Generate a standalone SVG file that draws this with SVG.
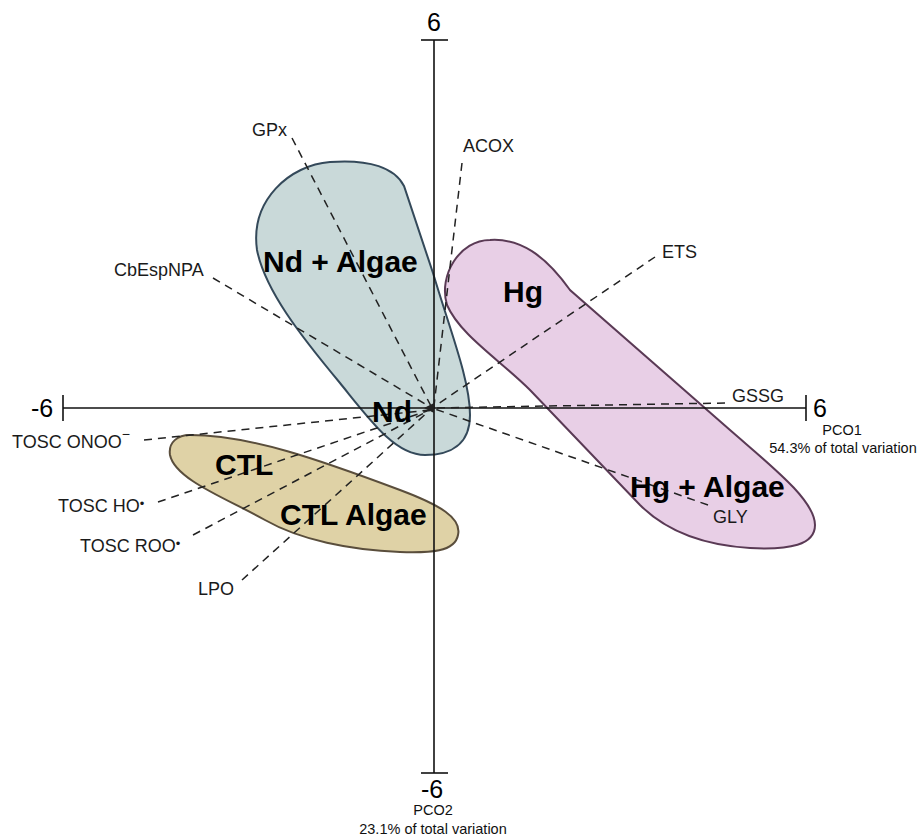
<svg xmlns="http://www.w3.org/2000/svg" width="921" height="838" viewBox="0 0 921 838">
<style>
.lbl{font-family:"Liberation Sans",Arial,sans-serif;font-size:18px;fill:#1a1a1a}
.big{font-family:"Liberation Sans",Arial,sans-serif;font-size:30px;font-weight:bold;fill:#000}
.num{font-family:"Liberation Sans",Arial,sans-serif;font-size:25px;fill:#000}
.ax{font-family:"Liberation Sans",Arial,sans-serif;font-size:14.5px;fill:#111}
.vec{stroke:#222;stroke-width:1.5;stroke-dasharray:8 6;fill:none}
.axis{stroke:#111;stroke-width:1.6;fill:none}
</style>
<rect width="921" height="838" fill="#fff"/>
<g id="ndalgae"><path d="M330 162 C370 159 395 168 404 186 L433 273 C450 330 470 380 470 415 C470 445 450 455 425 455 C395 455 370 420 340 383 C300 335 265 290 257 250 C250 200 290 165 330 162 Z" fill="#c9d9d9" stroke="#34495a" stroke-width="2"/></g>
<g id="hg"><path d="M490 240 C520 238 545 255 570 290 L730 430 C770 465 815 500 815 525 C815 545 790 550 750 548 C700 545 665 530 640 505 L530 390 C500 360 460 335 447 305 C438 275 460 240 490 240 Z" fill="#e8cfe6" stroke="#5a3a55" stroke-width="2"/></g>
<g id="ctl"><path d="M190 435 C250 435 320 460 400 490 C440 505 462 518 458 535 C455 552 430 553 400 552 C350 550 300 540 265 520 C230 500 175 480 170 455 C168 442 178 435 190 435 Z" fill="#dfd2a6" stroke="#5a4e3c" stroke-width="2"/></g>
<g id="axes">
<line class="axis" x1="63" y1="408" x2="806" y2="408"/>
<line class="axis" x1="63" y1="395" x2="63" y2="421"/>
<line class="axis" x1="806" y1="395" x2="806" y2="421"/>
<line class="axis" x1="434" y1="40" x2="434" y2="773"/>
<line class="axis" x1="421" y1="40" x2="448" y2="40"/>
<line class="axis" x1="421" y1="773" x2="448" y2="773"/>
</g>
<g id="connectors">
<line class="vec" x1="292" y1="138" x2="432" y2="408"/>
<line class="vec" x1="462" y1="163" x2="434" y2="406"/>
<line class="vec" x1="213" y1="278" x2="432" y2="408"/>
<line class="vec" x1="655" y1="257" x2="432" y2="408"/>
<line class="vec" x1="725" y1="403" x2="432" y2="408"/>
<line class="vec" x1="708" y1="505" x2="432" y2="408"/>
<line class="vec" x1="144" y1="440" x2="430" y2="410"/>
<line class="vec" x1="158" y1="502" x2="430" y2="410"/>
<line class="vec" x1="193" y1="535" x2="430" y2="410"/>
<line class="vec" x1="242" y1="580" x2="430" y2="410"/>
<path d="M424 408 L434 403 L434 413 Z" fill="#222"/>
</g>
<g id="labels">
<text class="lbl" x="252" y="136">GPx</text>
<text class="lbl" x="463" y="152">ACOX</text>
<text class="lbl" x="114" y="276">CbEspNPA</text>
<text class="lbl" x="662" y="258">ETS</text>
<text class="lbl" x="732" y="402">GSSG</text>
<text class="lbl" x="713" y="523" fill="#333">GLY</text>
<text class="lbl" x="12" y="448">TOSC ONOO<tspan dy="-9" font-size="14">−</tspan></text>
<text class="lbl" x="58" y="512">TOSC HO<tspan dy="-4" font-size="13">•</tspan></text>
<text class="lbl" x="80" y="552">TOSC ROO<tspan dy="-4" font-size="13">•</tspan></text>
<text class="lbl" x="198" y="595">LPO</text>
</g>
<g id="grouplabels">
<text class="big" x="263" y="272">Nd + Algae</text>
<text class="big" x="503" y="302">Hg</text>
<text class="big" x="372" y="422">Nd</text>
<text class="big" x="215" y="475">CTL</text>
<text class="big" x="280" y="525">CTL Algae</text>
<text class="big" x="630" y="497">Hg + Algae</text>
</g>
<g id="axislabels">
<text class="num" x="434" y="31" text-anchor="middle">6</text>
<text class="num" x="31" y="417">-6</text>
<text class="num" x="813" y="417">6</text>
<text class="num" x="432" y="798" text-anchor="middle">-6</text>
<text class="ax" x="842" y="435" text-anchor="middle">PCO1</text>
<text class="ax" x="843" y="453" text-anchor="middle">54.3% of total variation</text>
<text class="ax" x="433" y="815" text-anchor="middle">PCO2</text>
<text class="ax" x="433" y="834" text-anchor="middle">23.1% of total variation</text>
</g>
</svg>
